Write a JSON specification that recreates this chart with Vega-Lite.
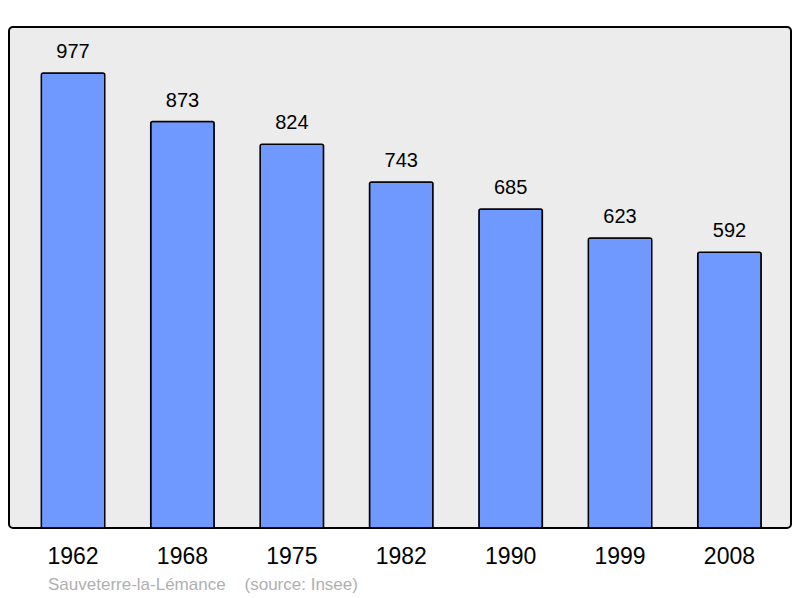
{
  "$schema": "https://vega.github.io/schema/vega-lite/v6.json",
  "width": 782,
  "height": 501,
  "autosize": {"type": "none"},
  "padding": {"left": 9, "top": 27, "right": 9, "bottom": 70},
  "background": "white",
  "title": {
    "text": "Sauveterre-la-Lémance\u00a0\u00a0\u00a0\u00a0(source: Insee)",
    "orient": "bottom",
    "anchor": "start",
    "font": "Liberation Sans",
    "fontSize": 17,
    "fontWeight": "normal",
    "color": "#b0b0b0",
    "dx": 39,
    "offset": 9
  },
  "config": {
    "font": "Liberation Sans",
    "view": {"fill": "#ececec", "stroke": "black", "strokeWidth": 2, "cornerRadius": 4}
  },
  "data": {
    "values": [
      {"year": "1962", "population": 977},
      {"year": "1968", "population": 873},
      {"year": "1975", "population": 824},
      {"year": "1982", "population": 743},
      {"year": "1990", "population": 685},
      {"year": "1999", "population": 623},
      {"year": "2008", "population": 592}
    ]
  },
  "encoding": {
    "x": {
      "field": "year",
      "type": "nominal",
      "sort": null,
      "scale": {"paddingInner": 0.42, "paddingOuter": 0.284, "align": 0.52},
      "axis": {
        "title": null,
        "labelAngle": 0,
        "labelFont": "Liberation Sans",
        "labelFontSize": 23,
        "labelColor": "black",
        "labelPadding": 17,
        "ticks": false,
        "domain": false
      }
    },
    "y": {
      "field": "population",
      "type": "quantitative",
      "scale": {"domain": [0, 1076], "nice": false},
      "axis": null
    }
  },
  "layer": [
    {
      "mark": {
        "type": "bar",
        "fill": "#7099ff",
        "stroke": "black",
        "strokeWidth": 1.5,
        "cornerRadiusTopLeft": 2,
        "cornerRadiusTopRight": 2
      }
    },
    {
      "mark": {
        "type": "text",
        "baseline": "bottom",
        "dy": -11,
        "font": "Liberation Sans",
        "fontSize": 20,
        "color": "black"
      },
      "encoding": {"text": {"field": "population", "type": "quantitative"}}
    }
  ]
}
